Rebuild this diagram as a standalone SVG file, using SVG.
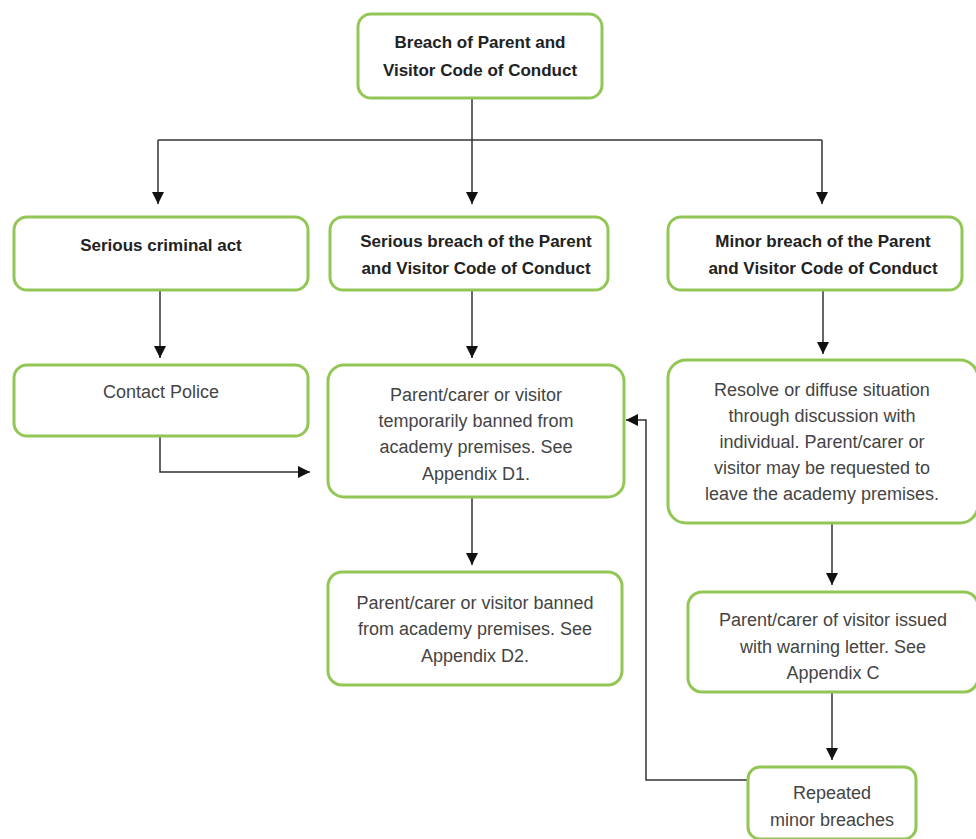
<svg xmlns="http://www.w3.org/2000/svg" width="976" height="839" viewBox="0 0 976 839">
<style>
.box{fill:#fff;stroke:#92c755;stroke-width:3}
.b{font-family:"Liberation Sans",Arial,sans-serif;font-weight:bold;font-size:17px;fill:#222;text-anchor:middle}
.t{font-family:"Liberation Sans",Arial,sans-serif;font-size:18px;fill:#444;text-anchor:middle}
.c{fill:none;stroke:#333;stroke-width:1.5}
</style>
<defs>
<marker id="ah2" viewBox="0 0 10 10" refX="10" refY="5" markerWidth="12" markerHeight="12" markerUnits="userSpaceOnUse" orient="auto">
<path d="M0,0 L10,5 L0,10 z" fill="#111"/>
</marker>
</defs>
<rect width="976" height="839" fill="#fff"/>
<g id="connectors">
<path class="c" d="M472,98 V140"/>
<path class="c" d="M158,140 H822"/>
<path class="c" d="M158,140 V204" marker-end="url(#ah2)"/>
<path class="c" d="M472,140 V204" marker-end="url(#ah2)"/>
<path class="c" d="M822,140 V204" marker-end="url(#ah2)"/>
<path class="c" d="M160,290 V358" marker-end="url(#ah2)"/>
<path class="c" d="M472,290 V358" marker-end="url(#ah2)"/>
<path class="c" d="M823,290 V354" marker-end="url(#ah2)"/>
<path class="c" d="M160,436 V472 H310" marker-end="url(#ah2)"/>
<path class="c" d="M472,497 V565" marker-end="url(#ah2)"/>
<path class="c" d="M832,523 V585" marker-end="url(#ah2)"/>
<path class="c" d="M832,692 V760" marker-end="url(#ah2)"/>
<path class="c" d="M748,780 H646 V420 H626" marker-end="url(#ah2)"/>
</g>
<g id="n-top"><rect class="box" x="358" y="14" width="244" height="84" rx="13"/>
<text class="b" x="480" y="48">Breach of Parent and</text>
<text class="b" x="480" y="76">Visitor Code of Conduct</text></g>
<g id="n-criminal"><rect class="box" x="14" y="217" width="294" height="73" rx="13"/>
<text class="b" x="161" y="251">Serious criminal act</text></g>
<g id="n-serious"><rect class="box" x="330" y="217" width="278" height="73" rx="13"/>
<text class="b" x="476" y="247">Serious breach of the Parent</text>
<text class="b" x="476" y="274">and Visitor Code of Conduct</text></g>
<g id="n-minor"><rect class="box" x="668" y="217" width="294" height="73" rx="13"/>
<text class="b" x="823" y="247">Minor breach of the Parent</text>
<text class="b" x="823" y="274">and Visitor Code of Conduct</text></g>
<g id="n-police"><rect class="box" x="14" y="365" width="294" height="71" rx="13"/>
<text class="t" x="161" y="398">Contact Police</text></g>
<g id="n-temp"><rect class="box" x="328" y="365" width="296" height="132" rx="16"/>
<text class="t" x="476" y="401">Parent/carer or visitor</text>
<text class="t" x="476" y="427">temporarily banned from</text>
<text class="t" x="476" y="453">academy premises. See</text>
<text class="t" x="476" y="480">Appendix D1.</text></g>
<g id="n-resolve"><rect class="box" x="668" y="360" width="310" height="163" rx="18"/>
<text class="t" x="822" y="396">Resolve or diffuse situation</text>
<text class="t" x="822" y="422">through discussion with</text>
<text class="t" x="822" y="448">individual. Parent/carer or</text>
<text class="t" x="822" y="474">visitor may be requested to</text>
<text class="t" x="822" y="500">leave the academy premises.</text></g>
<g id="n-d2"><rect class="box" x="328" y="572" width="294" height="113" rx="14"/>
<text class="t" x="475" y="609">Parent/carer or visitor banned</text>
<text class="t" x="475" y="635">from academy premises. See</text>
<text class="t" x="475" y="662">Appendix D2.</text></g>
<g id="n-warning"><rect class="box" x="688" y="592" width="290" height="100" rx="14"/>
<text class="t" x="833" y="626">Parent/carer of visitor issued</text>
<text class="t" x="833" y="653">with warning letter. See</text>
<text class="t" x="833" y="679">Appendix C</text></g>
<g id="n-repeated"><rect class="box" x="748" y="767" width="168" height="72" rx="12"/>
<text class="t" x="832" y="799">Repeated</text>
<text class="t" x="832" y="826">minor breaches</text></g>
</svg>
